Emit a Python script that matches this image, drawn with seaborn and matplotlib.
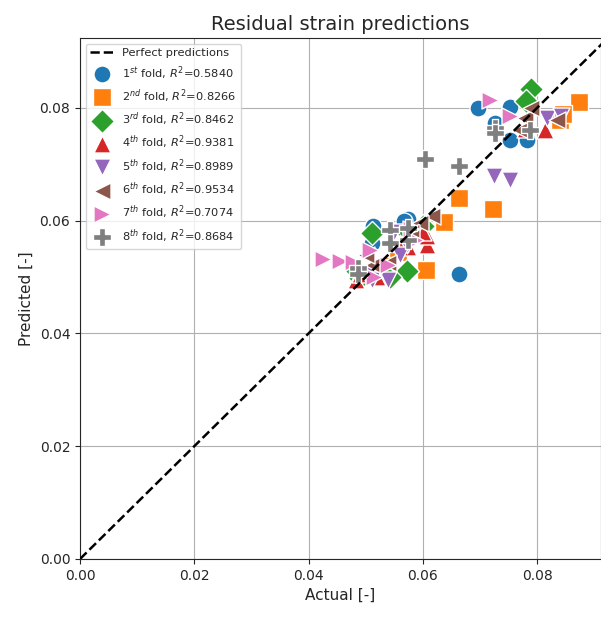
import numpy as np
import pandas as pd
import seaborn as sns
import matplotlib
matplotlib.use("Agg")
import matplotlib.pyplot as plt

# actual / predicted residual strain for each CV fold
fold1_actual = [0.0513, 0.0574, 0.0664, 0.0697, 0.0753, 0.0727, 0.0753, 0.0783, 0.0511, 0.0568]
fold1_pred = [0.0591, 0.0603, 0.0506, 0.0800, 0.0802, 0.0773, 0.0743, 0.0743, 0.0560, 0.0600]
fold2_actual = [0.0874, 0.0840, 0.0664, 0.0723, 0.0637, 0.0606, 0.0557, 0.0540, 0.0520, 0.0845]
fold2_pred = [0.0811, 0.0779, 0.0640, 0.0621, 0.0598, 0.0513, 0.0545, 0.0520, 0.0505, 0.0790]
fold3_actual = [0.0790, 0.0781, 0.0511, 0.0573, 0.0543, 0.0485, 0.0573, 0.0490, 0.0530, 0.0600]
fold3_pred = [0.0834, 0.0812, 0.0578, 0.0511, 0.0500, 0.0510, 0.0580, 0.0498, 0.0508, 0.0590]
fold4_actual = [0.0814, 0.0779, 0.0607, 0.0607, 0.0574, 0.0483, 0.0490, 0.0560, 0.0520, 0.0600]
fold4_pred = [0.0760, 0.0763, 0.0556, 0.0573, 0.0553, 0.0495, 0.0505, 0.0560, 0.0500, 0.0580]
fold5_actual = [0.0725, 0.0753, 0.0818, 0.0842, 0.0572, 0.0539, 0.0511, 0.0500, 0.0560, 0.0550]
fold5_pred = [0.0679, 0.0672, 0.0783, 0.0785, 0.0557, 0.0495, 0.0495, 0.0505, 0.0540, 0.0580]
fold6_actual = [0.0835, 0.0779, 0.0770, 0.0790, 0.0616, 0.0595, 0.0513, 0.0500, 0.0540, 0.0580]
fold6_pred = [0.0778, 0.0782, 0.0760, 0.0800, 0.0608, 0.0596, 0.0522, 0.0540, 0.0525, 0.0580]
fold7_actual = [0.0718, 0.0753, 0.0425, 0.0455, 0.0478, 0.0508, 0.0539, 0.0587, 0.0580, 0.0515]
fold7_pred = [0.0814, 0.0785, 0.0532, 0.0528, 0.0527, 0.0548, 0.0522, 0.0566, 0.0585, 0.0500]
fold8_actual = [0.0604, 0.0664, 0.0727, 0.0727, 0.0788, 0.0487, 0.0487, 0.0543, 0.0543, 0.0574, 0.0574]
fold8_pred = [0.0709, 0.0697, 0.0765, 0.0755, 0.0760, 0.0516, 0.0505, 0.0584, 0.0560, 0.0566, 0.0587]

fold_names = ["1$^{st}$", "2$^{nd}$", "3$^{rd}$", "4$^{th}$", "5$^{th}$", "6$^{th}$", "7$^{th}$", "8$^{th}$"]
r2_scores = [0.5840, 0.8266, 0.8462, 0.9381, 0.8989, 0.9534, 0.7074, 0.8684]
markers = ["o", "s", "D", "^", "v", "<", ">", "P"]

actuals = [fold1_actual, fold2_actual, fold3_actual, fold4_actual,
           fold5_actual, fold6_actual, fold7_actual, fold8_actual]
preds = [fold1_pred, fold2_pred, fold3_pred, fold4_pred,
         fold5_pred, fold6_pred, fold7_pred, fold8_pred]

sns.set_style("ticks")
plt.rcParams['font.family'] = ['DejaVu Sans']

fig = plt.figure(figsize=(6.01, 6.17), dpi=100)
ax = fig.add_axes([80 / 601, 58 / 617, 521 / 601, 521 / 617])

lim_x = 0.0912
lim_y = 0.0924
ax.plot([0, 0.095], [0, 0.095], "k--", lw=1.8, label="Perfect predictions", zorder=5)

palette = sns.color_palette("tab10", 8)
for i in range(8):
    df = pd.DataFrame({"actual": actuals[i], "pred": preds[i]})
    sns.scatterplot(data=df, x="actual", y="pred", ax=ax, marker=markers[i],
                    color=palette[i], s=150,
                    label=f"{fold_names[i]} fold, $R^2$={r2_scores[i]:.4f}")

ax.set_xlim(0, lim_x)
ax.set_ylim(0, lim_y)
ax.set_xticks([0.0, 0.02, 0.04, 0.06, 0.08])
ax.set_yticks([0.0, 0.02, 0.04, 0.06, 0.08])
ax.xaxis.set_major_formatter(matplotlib.ticker.FormatStrFormatter("%.2f"))
ax.yaxis.set_major_formatter(matplotlib.ticker.FormatStrFormatter("%.2f"))
ax.grid(True, color="#b0b0b0", lw=0.8)
ax.set_axisbelow(True)
ax.tick_params(labelsize=10)
ax.set_xlabel("Actual [-]", fontsize=11)
ax.set_ylabel("Predicted [-]", fontsize=11)
ax.set_title("Residual strain predictions", fontsize=14)
ax.legend(loc="upper left", fontsize=8.2, markerscale=1.0, frameon=True)

fig.savefig("out.png", dpi=100)
